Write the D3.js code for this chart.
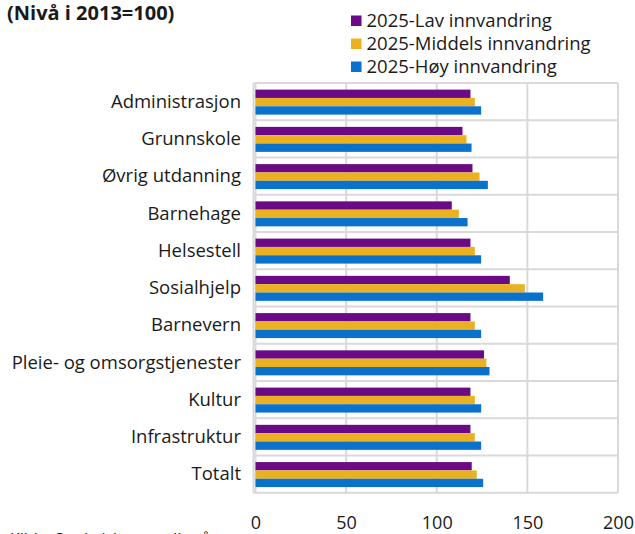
<!DOCTYPE html>
<html><head><meta charset="utf-8">
<script src="https://cdn.jsdelivr.net/npm/d3@7"></script>
<style>body{margin:0;background:#fff;} svg{display:block;font-family:"Open Sans",sans-serif;}</style>
</head><body>
<script>
const categories = ["Administrasjon","Grunnskole","Øvrig utdanning","Barnehage","Helsestell","Sosialhjelp","Barnevern","Pleie- og omsorgstjenester","Kultur","Infrastruktur","Totalt"];
const seriesNames = ["2025-Lav innvandring","2025-Middels innvandring","2025-Høy innvandring"];
const lav =     [118.6,114.2,119.7,108.3,118.6,140.3,118.6,126.1,118.6,118.6,119.3];
const middels = [121.0,116.4,123.6,112.2,121.0,148.6,121.0,127.4,121.0,121.0,122.1];
const hoy =     [124.5,119.2,128.2,117.0,124.5,158.7,124.5,129.1,124.5,124.5,125.6];
const xTicks = [0,50,100,150,200];
const colors = ["#6a0a84","#ebb120","#0a72cd"];
const title = "(Nivå i 2013=100)";
const source = "Kilde: Statistisk sentralbyrå";

const W=635,H=534;
const svg=d3.select("body").append("svg").attr("width",W).attr("height",H);
const m={left:255.5,right:618,top:83,bottom:492.7};
const x=d3.scaleLinear().domain([0,200]).range([m.left,m.right]);
const y=d3.scaleBand().domain(categories).range([m.top,m.bottom]).paddingInner(0).paddingOuter(0);
const series=[lav,middels,hoy];
const grey="#d9d9d9";
const txt="#1a1a1a";

// gridlines
const g=svg.append("g");
g.selectAll("line.v").data(xTicks).join("line")
 .attr("x1",d=>x(d)).attr("x2",d=>x(d)).attr("y1",m.top).attr("y2",m.bottom)
 .attr("stroke",grey).attr("stroke-width",2);
const hs=categories.map(c=>y(c)).concat([m.bottom]);
g.selectAll("line.h").data(hs).join("line")
 .attr("x1",m.left-2).attr("x2",m.right).attr("y1",d=>d).attr("y2",d=>d)
 .attr("stroke",grey).attr("stroke-width",2);
svg.append("line").attr("x1",m.left-2).attr("x2",m.left-2).attr("y1",m.top).attr("y2",m.bottom).attr("stroke",grey).attr("stroke-width",2);

// bars
const inner=d3.scaleBand().domain([0,1,2]).range([0,25]);
const bw=y.bandwidth();
const offset=(bw-25)/2+0.5;
categories.forEach((c,i)=>{
  series.forEach((s,k)=>{
    svg.append("rect")
      .attr("x",x(0)).attr("y",y(c)+offset+inner(k))
      .attr("width",x(s[i])-x(0)).attr("height",inner.bandwidth())
      .attr("fill",colors[k]);
  });
});

// category labels
svg.append("g").selectAll("text").data(categories).join("text")
 .attr("x",241).attr("y",d=>y(d)+bw/2+6.3)
 .attr("text-anchor","end").attr("font-size",18.5).attr("fill",txt).text(d=>d);

// x axis labels
const xa=svg.append("g").attr("transform",`translate(0,${m.bottom})`)
 .call(d3.axisBottom(x).tickValues(xTicks).tickSize(0).tickPadding(22));
xa.select(".domain").remove();
xa.selectAll("text").attr("font-size",18).attr("fill",txt).attr("font-family","Open Sans").attr("dy",null).attr("y",36.5);

// title
svg.append("text").attr("x",7).attr("y",19.5).attr("font-size",20).attr("font-weight","bold").attr("fill",txt).text(title);

// legend
const lg=svg.append("g");
seriesNames.forEach((n,k)=>{
  const cy=20.7+k*23;
  lg.append("rect").attr("x",351).attr("y",cy-5.2).attr("width",10.5).attr("height",10.5).attr("fill",colors[k]);
  lg.append("text").attr("x",366.5).attr("y",cy+6).attr("font-size",18.5).attr("fill",txt).text(n);
});

// source (partly cut off, as in the reference)
svg.append("text").attr("x",10).attr("y",545).attr("font-size",16).attr("fill",txt).text(source);
</script>
</body></html>
